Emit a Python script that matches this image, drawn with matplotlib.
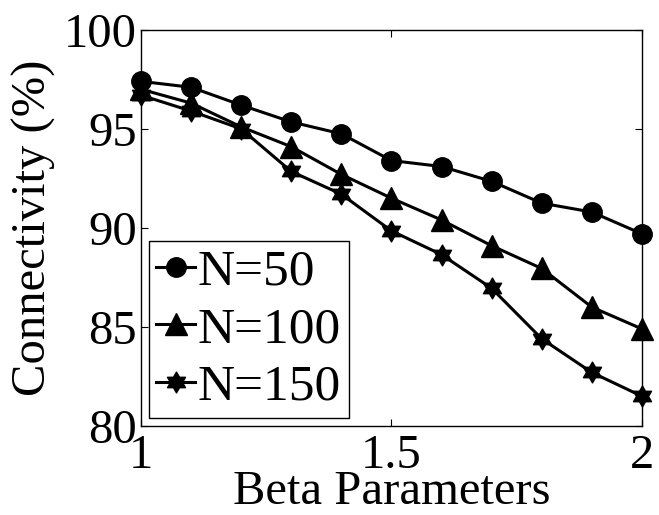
import matplotlib
matplotlib.use("Agg")
import matplotlib.pyplot as plt
import numpy as np
from matplotlib.path import Path

# data
beta = [1.0, 1.1, 1.2, 1.3, 1.4, 1.5, 1.6, 1.7, 1.8, 1.9, 2.0]
conn_n50 = [97.4, 97.1, 96.2, 95.35, 94.75, 93.4, 93.1, 92.35, 91.25, 90.8, 89.7]
conn_n100 = [97.0, 96.3, 95.1, 94.1, 92.7, 91.5, 90.4, 89.1, 87.95, 86.0, 84.9]
conn_n150 = [96.7, 95.9, 95.0, 92.85, 91.7, 89.85, 88.65, 86.95, 84.4, 82.7, 81.5]
labels = ["N=50", "N=100", "N=150"]
x_ticks = [1, 1.5, 2]
y_ticks = [80, 85, 90, 95, 100]

plt.rcParams["font.family"] = ["Liberation Serif", "DejaVu Serif"]

# MATLAB-style hexagram marker (six-pointed star)
ang = np.pi / 2 + np.arange(12) * np.pi / 6
rad = np.where(np.arange(12) % 2 == 0, 1.0, 1 / np.sqrt(3))
verts = np.column_stack([rad * np.cos(ang), rad * np.sin(ang)])
verts = np.vstack([verts, verts[:1]])
hexagram = Path(verts, closed=True)

fig = plt.figure(figsize=(6.59, 5.15), dpi=100)
ax = fig.add_axes([0.214, 0.173, 0.760, 0.769])

ax.plot(beta, conn_n50, color="black", lw=2.2, marker="o", ms=14,
        label=labels[0], clip_on=False, zorder=3)
ax.plot(beta, conn_n100, color="black", lw=2.2, marker="^", ms=16,
        label=labels[1], clip_on=False, zorder=3)
ax.plot(beta, conn_n150, color="black", lw=2.2, marker=hexagram, ms=15,
        label=labels[2], clip_on=False, zorder=3)

ax.set_xlim(1, 2)
ax.set_ylim(80, 100)
ax.set_xticks(x_ticks)
ax.set_xticklabels(["1", "1.5", "2"])
ax.set_yticks(y_ticks)
ax.tick_params(direction="in", length=5, width=0.8, labelsize=35,
               top=True, right=True, pad=3)
ax.tick_params(axis="x", pad=6)
for s in ax.spines.values():
    s.set_linewidth(1.0)

ax.set_xlabel("Beta Parameters", fontsize=35, labelpad=-6)
ax.set_ylabel("Connectivity (%)", fontsize=35, labelpad=6)

leg = ax.legend(loc="lower left", fontsize=37, handlelength=0.75,
                handletextpad=0.05, borderpad=0.15, labelspacing=0.2,
                borderaxespad=0.15, fancybox=False, framealpha=1)
leg.get_frame().set_edgecolor("black")
leg.get_frame().set_linewidth(1.0)

fig.savefig("out.png", dpi=100)
